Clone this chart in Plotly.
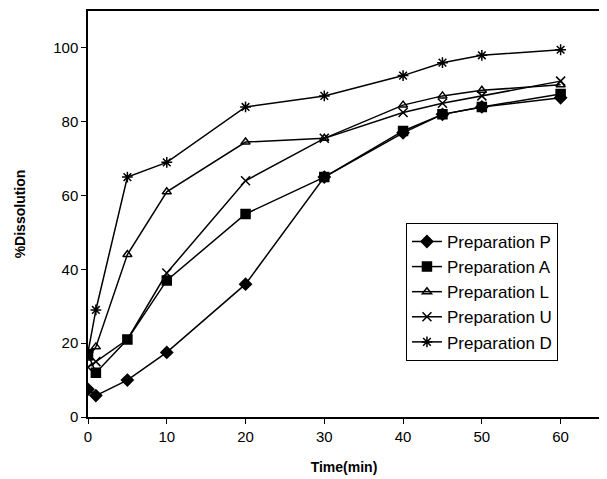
import plotly.graph_objects as go

time = [0, 1, 5, 10, 20, 30, 40, 45, 50, 60]
prep_p = [7.5, 5.8, 10, 17.5, 36, 65, 77, 82, 84, 86.5]
prep_a = [17, 12, 21, 37, 55, 65, 77.5, 82, 84, 87.5]
prep_l = [16, 19, 44, 61, 74.5, 75.5, 84.5, 87, 88.5, 90]
prep_u = [13.5, 15, 21, 39, 64, 75.5, 82.5, 85, 87, 91]
prep_d = [17.5, 29, 65, 69, 84, 87, 92.5, 96, 98, 99.5]

series = [
    ("Preparation P", prep_p, "diamond", 9),
    ("Preparation A", prep_a, "square", 9),
    ("Preparation L", prep_l, "triangle-up-open", 8),
    ("Preparation U", prep_u, "x-thin-open", 9),
    ("Preparation D", prep_d, "asterisk-open", 9),
]

fig = go.Figure()
for i, (name, vals, sym, sz) in enumerate(series):
    fig.add_trace(go.Scatter(
        x=time, y=vals, mode="lines+markers", name=name,
        legendgroup=f"g{i}",
        line=dict(color="black", width=1.5),
        marker=dict(symbol=sym, size=sz, color="black",
                    line=dict(color="black", width=1.5)),
    ))

fig.update_layout(
    width=607, height=479,
    margin=dict(l=80, r=15, t=3, b=70),
    paper_bgcolor="white", plot_bgcolor="white",
    font=dict(family="Liberation Sans, Arial, sans-serif", size=14, color="black"),
    showlegend=True,
    legend=dict(
        x=0.621, y=0.478, xanchor="left", yanchor="top",
        bordercolor="black", borderwidth=1, bgcolor="white",
        font=dict(size=17), tracegroupgap=0, traceorder="grouped",
    ),
    xaxis=dict(
        range=[0, 65], tickvals=[0, 10, 20, 30, 40, 50, 60],
        showline=True, linecolor="black", linewidth=1.5, mirror=True,
        ticks="outside", ticklen=5, tickcolor="black",
        showgrid=False, zeroline=False, automargin=False,
        tickfont=dict(size=15),
        title=dict(text="<b>Time(min)</b>", font=dict(size=14), standoff=18),
    ),
    yaxis=dict(
        range=[0, 110], tickvals=[0, 20, 40, 60, 80, 100],
        showline=True, linecolor="black", linewidth=1.5, mirror=True,
        ticks="outside", ticklen=5, tickcolor="black",
        showgrid=False, zeroline=False, automargin=False,
        tickfont=dict(size=15),
        title=dict(text="<b>%Dissolution</b>", font=dict(size=14), standoff=24),
    ),
)

fig.write_html("out.html")
